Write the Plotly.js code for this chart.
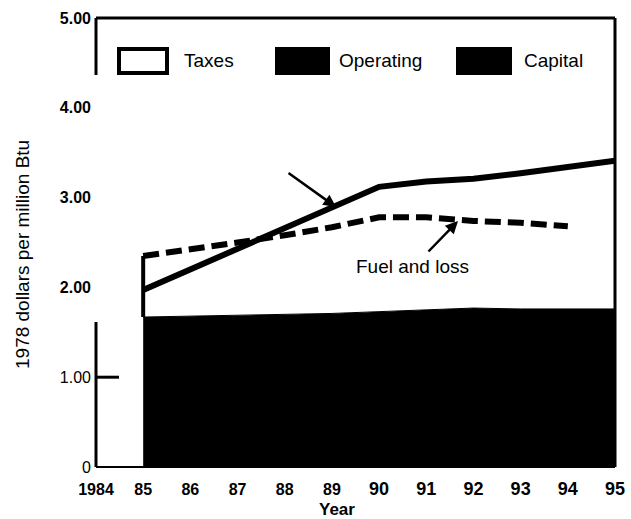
<!DOCTYPE html>
<html>
<head>
<meta charset="utf-8">
<script src="https://cdn.plot.ly/plotly-3.0.1.min.js"></script>
<style>html,body{margin:0;padding:0;background:#fff;}#chart{width:631px;height:519px;}</style>
</head>
<body>
<div id="chart"></div>
<script>
// ---- data ----
const years = [1985, 1986, 1987, 1988, 1989, 1990, 1991, 1992, 1993, 1994, 1995];
const capitalTop = [1.67, 1.68, 1.69, 1.70, 1.71, 1.73, 1.75, 1.77, 1.76, 1.76, 1.76];
const totalCost = [1.97, 2.20, 2.43, 2.66, 2.89, 3.12, 3.18, 3.21, 3.27, 3.34, 3.41];
const fuelYears = [1985, 1986, 1987, 1988, 1989, 1990, 1991, 1992, 1993, 1994];
const fuelLoss = [2.35, 2.42, 2.50, 2.58, 2.67, 2.78, 2.78, 2.74, 2.72, 2.68];
const xTickVals = [1984, 1985, 1986, 1987, 1988, 1989, 1990, 1991, 1992, 1993, 1994, 1995];
const xTickText = ['1984', '85', '86', '87', '88', '89', '90', '91', '92', '93', '94', '95'];
const yTickVals = [0, 1, 2, 3, 4, 5];
const yTickText = ['0', '1.00', '2.00', '3.00', '4.00', '5.00'];
const legendNames = ['Taxes', 'Operating', 'Capital'];
const fuelLabel = 'Fuel and loss';

// ---- plot ----
const big = new Set(['90', '91', '92', '93', '94', '95']);
const xTickHtml = xTickText.map(t => big.has(t) ? '<b><span style="font-size:18px">' + t + '</span></b>' : '<b>' + t + '</b>');
const yTickHtml = yTickText.map((t, i) => yTickVals[i] >= 2 ? '<b>' + t + '</b>' : t);

const traces = [
  { x: years, y: capitalTop, type: 'scatter', mode: 'lines', name: 'Capital',
    fill: 'tozeroy', fillcolor: '#000', line: { color: '#000', width: 1 }, showlegend: false, hoverinfo: 'skip' },
  { x: years, y: totalCost, type: 'scatter', mode: 'lines', name: 'Taxes',
    fill: 'tonexty', fillcolor: '#fff', line: { color: '#000', width: 6 }, showlegend: false, hoverinfo: 'skip' },
  { x: [years[0], years[0]], y: [capitalTop[0], fuelLoss[0]], type: 'scatter', mode: 'lines',
    line: { color: '#000', width: 4 }, showlegend: false, hoverinfo: 'skip' },
  { x: fuelYears, y: fuelLoss, type: 'scatter', mode: 'lines', name: fuelLabel,
    line: { color: '#000', width: 6, dash: '16px,7px' }, showlegend: false, hoverinfo: 'skip' }
];

const L = 96, R = 615, T = 18, B = 467;
const px = p => (p - L) / (R - L);
const py = p => (B - p) / (B - T);

const shapes = [
  // frame
  { type: 'line', xref: 'paper', yref: 'paper', x0: 0, x1: 1, y0: 1, y1: 1, line: { color: '#000', width: 3 } },
  { type: 'line', xref: 'paper', yref: 'paper', x0: 1, x1: 1, y0: 0, y1: 1, line: { color: '#000', width: 3 } },
  { type: 'line', xref: 'paper', yref: 'paper', x0: 0, x1: 0, y0: py(75), y1: 1, line: { color: '#000', width: 3 } },
  { type: 'line', xref: 'paper', yref: 'paper', x0: 0, x1: 0, y0: 0, y1: py(322), line: { color: '#000', width: 3 } },
  { type: 'line', xref: 'paper', yref: 'paper', x0: 0, x1: 1, y0: 0, y1: 0, line: { color: '#000', width: 2 } },
  { type: 'line', xref: 'paper', yref: 'y', x0: 0, x1: px(119), y0: 1, y1: 1, line: { color: '#000', width: 3 } },
  // legend boxes
  { type: 'rect', xref: 'paper', yref: 'paper', x0: px(119), x1: px(167), y0: py(73), y1: py(49), fillcolor: '#fff', line: { color: '#000', width: 4 } },
  { type: 'rect', xref: 'paper', yref: 'paper', x0: px(276), x1: px(329), y0: py(74), y1: py(48), fillcolor: '#000', line: { color: '#000', width: 2 } },
  { type: 'rect', xref: 'paper', yref: 'paper', x0: px(457), x1: px(511), y0: py(74), y1: py(48), fillcolor: '#000', line: { color: '#000', width: 2 } }
];

const txtFont = { family: 'Liberation Sans, Arial, sans-serif', size: 19, color: '#000' };
const annotations = [
  { xref: 'paper', yref: 'paper', x: px(182), y: py(61), text: legendNames[0], showarrow: false, xanchor: 'left', yanchor: 'middle', font: txtFont },
  { xref: 'paper', yref: 'paper', x: px(337), y: py(61), text: legendNames[1], showarrow: false, xanchor: 'left', yanchor: 'middle', font: txtFont },
  { xref: 'paper', yref: 'paper', x: px(522), y: py(61), text: legendNames[2], showarrow: false, xanchor: 'left', yanchor: 'middle', font: txtFont },
  { xref: 'paper', yref: 'paper', x: px(412), y: py(266), text: fuelLabel, showarrow: false, xanchor: 'center', yanchor: 'middle', font: txtFont },
  // arrows
  { xref: 'paper', yref: 'paper', x: px(458), y: py(221), ax: -31, ay: 32, text: '', showarrow: true, arrowhead: 2, arrowsize: 1, arrowwidth: 2.5, arrowcolor: '#000' },
  { xref: 'paper', yref: 'paper', x: px(336), y: py(207), ax: -49, ay: -35, text: '', showarrow: true, arrowhead: 2, arrowsize: 1, arrowwidth: 2.5, arrowcolor: '#000' },
  // axis titles
  { xref: 'paper', yref: 'paper', x: px(23), y: py(255), text: '1978 dollars per million Btu', textangle: -90, showarrow: false, xanchor: 'center', yanchor: 'middle', font: { family: 'Liberation Sans, Arial, sans-serif', size: 19, color: '#000' } },
  { xref: 'paper', yref: 'paper', x: px(337), y: py(509), text: '<b>Year</b>', showarrow: false, xanchor: 'center', yanchor: 'middle', font: { family: 'Liberation Sans, Arial, sans-serif', size: 17, color: '#000' } }
];

const layout = {
  width: 631, height: 519,
  margin: { l: L, r: 631 - R, t: T, b: 519 - B, pad: 0 },
  paper_bgcolor: '#fff', plot_bgcolor: '#fff',
  showlegend: false,
  xaxis: {
    range: [1984, 1995], showgrid: false, zeroline: false, showline: false,
    tickmode: 'array', tickvals: xTickVals, ticktext: xTickHtml,
    ticks: 'outside', ticklen: 8, tickcolor: 'rgba(0,0,0,0)',
    tickfont: { family: 'Liberation Sans, Arial, sans-serif', size: 16, color: '#000' }
  },
  yaxis: {
    range: [0, 5], showgrid: false, zeroline: false, showline: false,
    tickmode: 'array', tickvals: yTickVals, ticktext: yTickHtml, ticks: '',
    ticklabelstandoff: 4,
    tickfont: { family: 'Liberation Sans, Arial, sans-serif', size: 16, color: '#000' }
  },
  shapes: shapes,
  annotations: annotations
};

Plotly.newPlot('chart', traces, layout, { displayModeBar: false, staticPlot: true });
</script>
</body>
</html>
